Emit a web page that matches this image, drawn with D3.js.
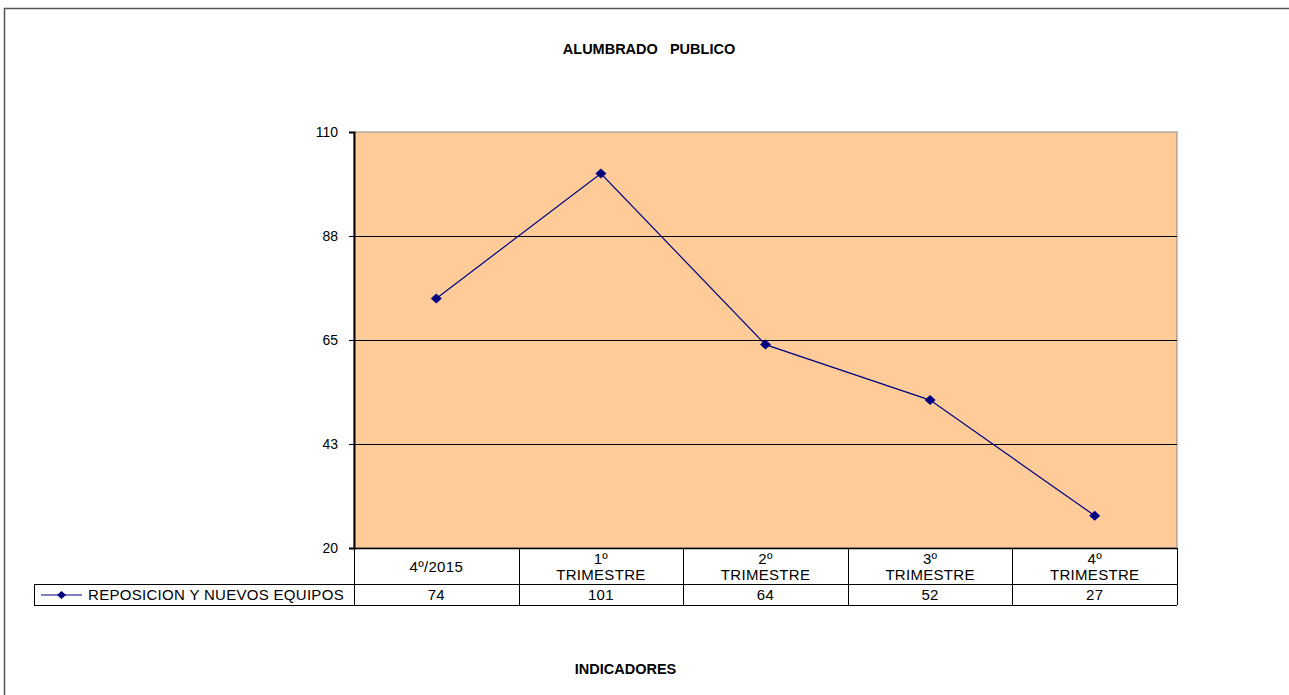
<!DOCTYPE html>
<html><head><meta charset="utf-8">
<script src="https://cdn.jsdelivr.net/npm/d3@7"></script>
<style>body{margin:0;background:#fff;}svg{display:block;font-family:"Liberation Sans",Arial,sans-serif;}</style>
</head><body>
<svg id="c" width="1289" height="695"></svg>
<script>
const title = "ALUMBRADO   PUBLICO";
const xTitle = "INDICADORES";
const categories = [["4º/2015"], ["1º", "TRIMESTRE"], ["2º", "TRIMESTRE"], ["3º", "TRIMESTRE"], ["4º", "TRIMESTRE"]];
const seriesName = "REPOSICION Y NUEVOS EQUIPOS";
const values = [74, 101, 64, 52, 27];
const yTicks = [20, 42.5, 65, 87.5, 110];

const svg = d3.select("#c");
const L = 354, R = 1177, T = 132, B = 548;
const rowH1 = 36, rowH2 = 21, legendLeft = 34;
const tableFont = 15, tableLS = 0.3;

// outer border
svg.append("rect").attr("x", 4.5).attr("y", 8.5).attr("width", 1300).attr("height", 700)
  .attr("fill", "none").attr("stroke", "#555").attr("stroke-width", 1.5);

const keys = categories.map((c, i) => i);
const x = d3.scaleBand().domain(keys).range([L, R]);
const y = d3.scaleLinear().domain([20, 110]).range([B, T]);

// plot background
svg.append("rect").attr("x", L).attr("y", T).attr("width", R - L).attr("height", B - T)
  .attr("fill", "#FFCC99").attr("stroke", "#888").attr("stroke-width", 1);

// gridlines
svg.append("g").selectAll("line").data(yTicks.slice(1, -1)).join("line")
  .attr("x1", L).attr("x2", R).attr("y1", d => Math.round(y(d)) + 0.5).attr("y2", d => Math.round(y(d)) + 0.5)
  .attr("stroke", "#000").attr("stroke-width", 1);

// y axis
const yAxis = d3.axisLeft(y).tickValues(yTicks).tickFormat(d => d3.format(".0f")(Math.round(d + 0.001))).tickSize(5).tickPadding(11);
const ga = svg.append("g").attr("transform", `translate(${L},0)`).call(yAxis);
ga.select(".domain").attr("stroke", "#000").attr("stroke-width", 2);
ga.selectAll(".tick line").attr("stroke", "#000");
ga.selectAll(".tick text").attr("font-size", 14).attr("fill", "#000").attr("font-family", "Liberation Sans, Arial, sans-serif");

// data table
const tg = svg.append("g");
tg.append("line").attr("x1", L).attr("x2", R).attr("y1", B + 0.5).attr("y2", B + 0.5).attr("stroke", "#000").attr("stroke-width", 1.5);
tg.append("line").attr("x1", legendLeft).attr("x2", R).attr("y1", B + rowH1 + 0.5).attr("y2", B + rowH1 + 0.5).attr("stroke", "#000");
tg.append("line").attr("x1", legendLeft).attr("x2", R).attr("y1", B + rowH1 + rowH2 + 0.5).attr("y2", B + rowH1 + rowH2 + 0.5).attr("stroke", "#000");
tg.append("line").attr("x1", legendLeft + 0.5).attr("x2", legendLeft + 0.5).attr("y1", B + rowH1).attr("y2", B + rowH1 + rowH2).attr("stroke", "#000");
const edges = keys.map(k => x(k)).concat([R]);
tg.selectAll("line.v").data(edges).join("line").attr("class", "v")
  .attr("x1", d => Math.round(d) + 0.5).attr("x2", d => Math.round(d) + 0.5)
  .attr("y1", B).attr("y2", B + rowH1 + rowH2).attr("stroke", "#000");

// category labels
const cl = tg.selectAll("text.cat").data(categories).join("text").attr("class", "cat")
  .attr("text-anchor", "middle").attr("font-size", tableFont).attr("letter-spacing", tableLS).attr("fill", "#000");
cl.each(function(d, i) {
  const t = d3.select(this);
  const cx = x(i) + x.bandwidth() / 2;
  const startY = d.length === 1 ? B + 24 : B + 16;
  d.forEach((line, j) => t.append("tspan").attr("x", cx).attr("y", startY + j * 16).text(line));
});

// values row
tg.selectAll("text.val").data(values).join("text").attr("class", "val")
  .attr("x", (d, i) => x(i) + x.bandwidth() / 2).attr("y", B + rowH1 + 16)
  .attr("text-anchor", "middle").attr("font-size", tableFont).attr("letter-spacing", tableLS).attr("fill", "#000").text(d => d);

// diamond path (slightly wider than tall)
const diamond = (w, h) => `M0,${-h / 2}L${w / 2},0L0,${h / 2}L${-w / 2},0Z`;

// legend
const ly = B + rowH1 + rowH2 / 2 + 0.5;
tg.append("line").attr("x1", 41).attr("x2", 82).attr("y1", ly).attr("y2", ly).attr("stroke", "#000080").attr("stroke-width", 1.2);
tg.append("path").attr("d", diamond(9, 8)).attr("transform", `translate(61.5,${ly})`).attr("fill", "#000080");
tg.append("text").attr("x", 88).attr("y", B + rowH1 + 16).attr("font-size", tableFont).attr("letter-spacing", tableLS).attr("fill", "#000").text(seriesName);

// series line
const line = d3.line().x((d, i) => x(i) + x.bandwidth() / 2).y(d => y(d));
svg.append("path").datum(values).attr("d", line).attr("fill", "none").attr("stroke", "#000080").attr("stroke-width", 1.2);
svg.append("g").selectAll("path").data(values).join("path")
  .attr("d", diamond(11, 10))
  .attr("transform", (d, i) => `translate(${x(i) + x.bandwidth() / 2},${y(d)})`)
  .attr("fill", "#000080");

// titles
svg.append("text").attr("x", 649).attr("y", 54).attr("text-anchor", "middle").attr("font-size", 14.5)
  .attr("font-weight", "bold").attr("xml:space", "preserve").style("white-space", "pre").text(title);
svg.append("text").attr("x", 625.5).attr("y", 674).attr("text-anchor", "middle").attr("font-size", 14.5)
  .attr("font-weight", "bold").text(xTitle);
</script>
</body></html>
